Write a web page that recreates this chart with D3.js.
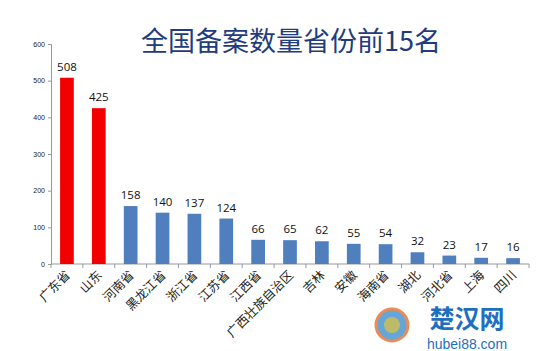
<!DOCTYPE html>
<html>
<head>
<meta charset="utf-8">
<script src="https://cdn.jsdelivr.net/npm/d3@7"></script>
<style>
  body { margin: 0; background: #fff; }
  svg { display: block; font-family: "Noto Sans CJK SC", "Open Sans", sans-serif; }
</style>
</head>
<body>
<div id="chart"></div>
<script>
// chart data
const provinces = ["广东省", "山东", "河南省", "黑龙江省", "浙江省", "江苏省", "江西省",
  "广西壮族自治区", "吉林", "安徽", "海南省", "湖北", "河北省", "上海", "四川"];
const counts = [508, 425, 158, 140, 137, 124, 66, 65, 62, 55, 54, 32, 23, 17, 16];
const highlighted = ["广东省", "山东"];
const yTicks = [0, 100, 200, 300, 400, 500, 600];
const title = "全国备案数量省份前15名";

const width = 554, height = 351;
const margin = { left: 51, right: 25, top: 44, bottom: 87 };

const svg = d3.select("#chart").append("svg")
  .attr("width", width)
  .attr("height", height);

const x = d3.scaleBand()
  .domain(provinces)
  .range([margin.left, width - margin.right])
  .paddingInner(0.57)
  .paddingOuter(0.285);

const y = d3.scaleLinear()
  .domain([0, 600])
  .range([height - margin.bottom, margin.top]);

// title
svg.append("text")
  .attr("x", 291)
  .attr("y", 51)
  .attr("text-anchor", "middle")
  .style("font-size", "27px")
  .style("fill", "#1f3c7d")
  .text(title);

// y axis
const yAxis = svg.append("g")
  .attr("transform", `translate(${margin.left},0)`)
  .call(d3.axisLeft(y).tickValues(yTicks).tickSize(3).tickPadding(3));
yAxis.selectAll("text").style("font-size", "7px").style("fill", "#222")
  .style("font-family", "Liberation Sans, sans-serif");
yAxis.selectAll("line, path").attr("stroke", "#999");

// x axis, ticks between categories
const bandStep = x.step();
const xAxis = svg.append("g")
  .attr("transform", `translate(0,${y(0)})`);
xAxis.append("line")
  .attr("x1", margin.left).attr("x2", width - margin.right)
  .attr("stroke", "#999");
xAxis.selectAll(".sep")
  .data(d3.range(provinces.length + 1))
  .join("line")
    .attr("x1", i => margin.left + i * bandStep)
    .attr("x2", i => margin.left + i * bandStep)
    .attr("y2", 4)
    .attr("stroke", "#999");
xAxis.selectAll(".lab")
  .data(provinces)
  .join("text")
    .attr("transform", d => `translate(${x(d) + x.bandwidth() / 2 + 4},${12}) rotate(-45)`)
    .attr("text-anchor", "end")
    .style("font-size", "12.5px")
    .style("fill", "#222")
    .text(d => d);

// bars
svg.append("g")
  .selectAll("rect")
  .data(provinces)
  .join("rect")
    .attr("x", d => x(d))
    .attr("y", (d, i) => y(counts[i]))
    .attr("width", x.bandwidth())
    .attr("height", (d, i) => y(0) - y(counts[i]))
    .attr("fill", d => highlighted.includes(d) ? "#f20000" : "#4f7fbd");

// value labels
svg.append("g")
  .selectAll("text")
  .data(provinces)
  .join("text")
    .attr("x", d => x(d) + x.bandwidth() / 2)
    .attr("y", (d, i) => y(counts[i]) - 7)
    .attr("text-anchor", "middle")
    .style("font-size", "11.5px")
    .style("fill", "#111")
    .style("font-family", "Open Sans, sans-serif")
    .text((d, i) => counts[i]);

// watermark
const wm = svg.append("g");
wm.append("circle").attr("cx", 392).attr("cy", 325).attr("r", 16)
  .attr("fill", "#3f8fcf").attr("stroke", "#e8702a").attr("stroke-width", 3).attr("opacity", 0.8);
wm.append("circle").attr("cx", 392).attr("cy", 325).attr("r", 8)
  .attr("fill", "#e3c43a").attr("opacity", 0.7);
wm.append("text").attr("x", 467).attr("y", 328).attr("text-anchor", "middle")
  .style("font-size", "25px").style("font-weight", "bold").style("fill", "#1f6fc0")
  .text("楚汉网");
wm.append("text").attr("x", 467).attr("y", 349).attr("text-anchor", "middle")
  .style("font-size", "14px").style("fill", "#1f6fc0")
  .style("font-family", "Liberation Sans, sans-serif")
  .text("hubei88.com");
</script>
</body>
</html>
